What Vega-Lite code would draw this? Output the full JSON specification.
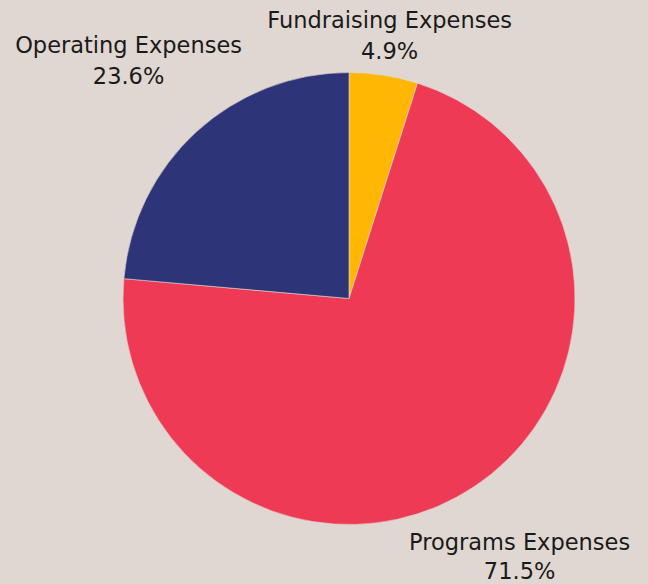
{
  "$schema": "https://vega.github.io/schema/vega-lite/v6.json",
  "width": 598,
  "height": 571,
  "padding": {"left": 50, "top": 13, "right": 0, "bottom": 0},
  "autosize": {"type": "none"},
  "background": "#e1d7d2",
  "config": {"view": {"stroke": null}},
  "data": {
    "values": [
      {"category": "Fundraising Expenses", "value": 4.9, "rank": 1},
      {"category": "Programs Expenses", "value": 71.5, "rank": 2},
      {"category": "Operating Expenses", "value": 23.6, "rank": 3}
    ]
  },
  "transform": [
    {"calculate": "datum.category + '\\n' + format(datum.value, '.1f') + '%'", "as": "label"}
  ],
  "encoding": {
    "theta": {"field": "value", "type": "quantitative", "stack": true},
    "order": {"field": "rank", "type": "quantitative"},
    "detail": {"field": "category", "type": "nominal"}
  },
  "layer": [
    {
      "mark": {"type": "arc", "outerRadius": 226, "stroke": "#e1d7d2", "strokeWidth": 0.6},
      "encoding": {
        "color": {
          "field": "category",
          "type": "nominal",
          "scale": {
            "domain": ["Fundraising Expenses", "Programs Expenses", "Operating Expenses"],
            "range": ["#ffb703", "#ee3a54", "#2e3478"]
          },
          "legend": null
        }
      }
    },
    {
      "mark": {"type": "text", "radius": 265, "dy": -16, "font": "DejaVu Sans", "fontSize": 22.5, "lineHeight": 31, "lineBreak": "\n", "align": "center", "baseline": "middle", "fill": "#1a1a1a"},
      "encoding": {
        "text": {"condition": {"test": "datum.category == 'Fundraising Expenses'", "field": "label"}, "value": ""}
      }
    },
    {
      "mark": {"type": "text", "radius": 319, "dx": -5, "dy": -17, "font": "DejaVu Sans", "fontSize": 22.5, "lineHeight": 31, "lineBreak": "\n", "align": "center", "baseline": "middle", "fill": "#1a1a1a"},
      "encoding": {
        "text": {"condition": {"test": "datum.category == 'Operating Expenses'", "field": "label"}, "value": ""}
      }
    },
    {
      "mark": {"type": "text", "radius": 315, "dx": -4, "dy": -18, "font": "DejaVu Sans", "fontSize": 22.5, "lineHeight": 29, "lineBreak": "\n", "align": "center", "baseline": "middle", "fill": "#1a1a1a"},
      "encoding": {
        "text": {"condition": {"test": "datum.category == 'Programs Expenses'", "field": "label"}, "value": ""}
      }
    }
  ]
}
